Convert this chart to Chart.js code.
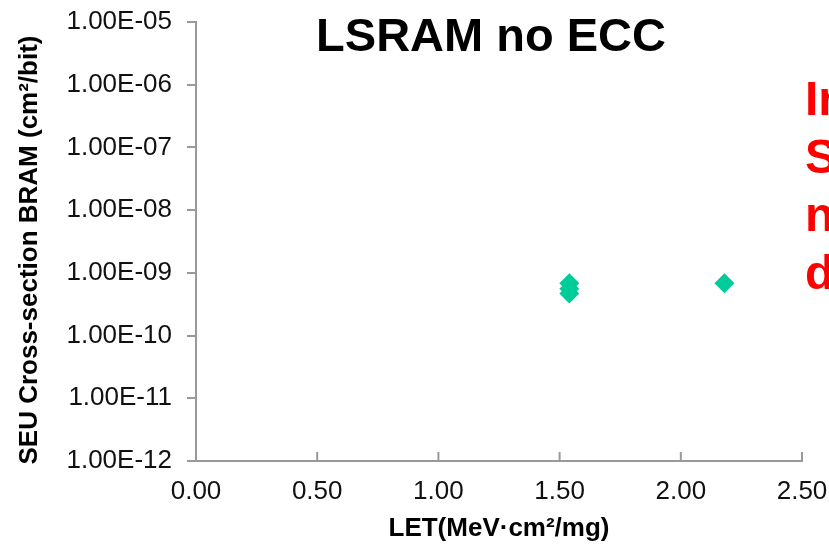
<!DOCTYPE html>
<html>
<head>
<meta charset="utf-8">
<script src="https://cdn.jsdelivr.net/npm/chart.js@4"></script>
<style>
  html, body { margin: 0; padding: 0; background: #fff; }
  #wrap { width: 829px; height: 544px; }
</style>
</head>
<body>
<div id="wrap"><canvas id="seuChart" width="829" height="544"></canvas></div>
<script>
// values
const letValues = [1.54, 1.54, 1.54, 2.18];
const crossSection = [6.8e-10, 5.6e-10, 4.7e-10, 6.8e-10];
const yTickValues = [1e-12, 1e-11, 1e-10, 1e-9, 1e-8, 1e-7, 1e-6, 1e-5];
const yTickLabels = ['1.00E-12', '1.00E-11', '1.00E-10', '1.00E-09', '1.00E-08', '1.00E-07', '1.00E-06', '1.00E-05'];
const xTickValues = [0, 0.5, 1, 1.5, 2, 2.5];
const xTickLabels = ['0.00', '0.50', '1.00', '1.50', '2.00', '2.50'];
const sideNote = ['In', 'S', 'n', 'd'];

const FONT = "'Liberation Sans', Arial, sans-serif";
const AXIS = '#999';

const overlay = {
    id: 'overlay',
    afterDraw(chart) {
        const ctx = chart.ctx;
        const x = chart.scales.x;
        const y = chart.scales.y;
        ctx.save();
        // inward tick marks on the x axis
        ctx.strokeStyle = AXIS;
        ctx.lineWidth = 2;
        xTickValues.forEach(v => {
            const px = x.getPixelForValue(v);
            ctx.beginPath();
            ctx.moveTo(px, x.top);
            ctx.lineTo(px, x.top - 9);
            ctx.stroke();
        });
        // y axis title
        ctx.fillStyle = '#000';
        ctx.font = 'bold 26px ' + FONT;
        ctx.textAlign = 'center';
        ctx.textBaseline = 'alphabetic';
        ctx.translate(37, 250);
        ctx.rotate(-Math.PI / 2);
        ctx.fillText('SEU Cross-section BRAM (cm²/bit)', 0, 0);
        ctx.setTransform(1, 0, 0, 1, 0, 0);
        // chart title
        ctx.font = 'bold 47px ' + FONT;
        ctx.fillText('LSRAM no ECC', 491, 51);
        // red note cut off at the right edge
        ctx.fillStyle = '#ff0000';
        ctx.font = 'bold 48px ' + FONT;
        ctx.textAlign = 'left';
        sideNote.forEach((t, i) => ctx.fillText(t, 805, 115 + i * 58));
        ctx.restore();
    }
};

const ctx = document.getElementById('seuChart').getContext('2d');
new Chart(ctx, {
    type: 'scatter',
    data: {
        datasets: [{
            label: 'LSRAM no ECC',
            data: letValues.map((v, i) => ({ x: v, y: crossSection[i] })),
            backgroundColor: '#00cc99',
            borderColor: '#00cc99',
            borderWidth: 0,
            pointStyle: 'rectRot',
            pointRadius: 10,
            pointHoverRadius: 10
        }]
    },
    options: {
        responsive: false,
        animation: false,
        layout: { padding: { left: 0, right: 27, top: 22, bottom: 0 } },
        plugins: {
            legend: { display: false },
            tooltip: { enabled: false }
        },
        scales: {
            x: {
                type: 'linear',
                min: 0,
                max: 2.5,
                afterBuildTicks: scale => { scale.ticks = xTickValues.map(v => ({ value: v })); },
                afterFit: scale => {
                    scale.height = 83;
                    scale.paddingLeft = 0;
                    scale.paddingRight = 0;
                },
                grid: { display: false, drawTicks: false, tickLength: 0 },
                border: { display: true, color: AXIS, width: 2 },
                ticks: {
                    padding: 15,
                    color: '#111',
                    font: { family: FONT, size: 26 },
                    maxRotation: 0,
                    callback: (v, i) => xTickLabels[i]
                },
                title: {
                    display: true,
                    text: 'LET(MeV·cm²/mg)',
                    color: '#000',
                    font: { family: FONT, size: 26, weight: 'bold' },
                    padding: { top: 0, bottom: 0 }
                }
            },
            y: {
                type: 'logarithmic',
                min: 1e-12,
                max: 1e-5,
                afterBuildTicks: scale => { scale.ticks = yTickValues.map(v => ({ value: v })); },
                afterFit: scale => {
                    scale.width = 196;
                    scale.paddingTop = 0;
                    scale.paddingBottom = 0;
                },
                grid: { display: true, drawOnChartArea: false, drawTicks: true, tickLength: 9, color: AXIS, lineWidth: 2 },
                border: { display: true, color: AXIS, width: 2 },
                ticks: {
                    padding: 15,
                    color: '#111',
                    font: { family: FONT, size: 26 },
                    callback: (v, i) => yTickLabels[i]
                }
            }
        }
    },
    plugins: [overlay]
});
</script>
</body>
</html>
